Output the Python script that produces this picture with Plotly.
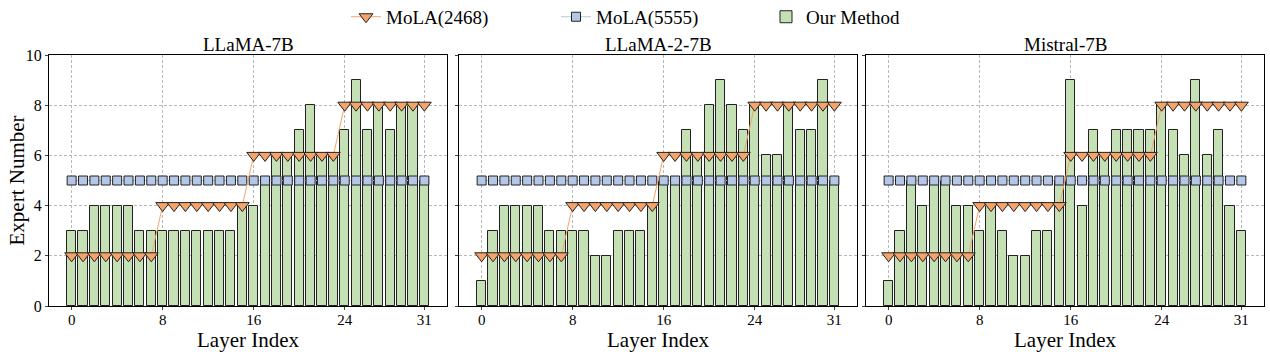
import plotly.graph_objects as go

layers = list(range(32))
titles = ["LLaMA-7B", "LLaMA-2-7B", "Mistral-7B"]

mola_2468 = [2]*8 + [4]*8 + [6]*8 + [8]*8
mola_5555 = [5]*32

ours_llama = [3, 3, 4, 4, 4, 4, 3, 3, 3, 3, 3, 3, 3, 3, 3, 4,
              4, 5, 6, 6, 7, 8, 6, 6, 7, 9, 7, 8, 7, 8, 8, 5]
ours_llama2 = [1, 3, 4, 4, 4, 4, 3, 3, 3, 3, 2, 2, 3, 3, 3, 4,
               5, 5, 7, 6, 8, 9, 8, 7, 8, 6, 6, 8, 7, 7, 9, 5]
ours_mistral = [1, 3, 5, 4, 5, 5, 4, 4, 3, 4, 3, 2, 2, 3, 3, 5,
                9, 4, 7, 6, 7, 7, 7, 7, 8, 7, 6, 9, 6, 7, 4, 3]
ours_all = [ours_llama, ours_llama2, ours_mistral]

x_ticks = [0, 8, 16, 24, 31]
y_ticks = [0, 2, 4, 6, 8, 10]

W, H = 1270, 352
panels_px = [(49, 447), (459, 857), (866, 1264)]
top_px, bot_px = 55, 306

BAR_FILL = "#c5e0b4"
EDGE = "#222222"
ORANGE = "#f4a46a"
BLUE = "#b4c7e7"
FONT = "Liberation Serif, Times New Roman, serif"

fig = go.Figure()
for i, vals in enumerate(ours_all):
    xa = "x" if i == 0 else f"x{i+1}"
    ya = "y" if i == 0 else f"y{i+1}"
    fig.add_trace(go.Bar(
        x=layers, y=vals, width=0.8, name="Our Method",
        marker=dict(color=BAR_FILL, line=dict(color=EDGE, width=1)),
        xaxis=xa, yaxis=ya, showlegend=(i == 0), legendrank=3))
    fig.add_trace(go.Scatter(
        x=layers, y=mola_5555, mode="lines+markers", name="MoLA(5555)",
        line=dict(color=BLUE, width=1),
        marker=dict(symbol="square", size=9, color=BLUE, line=dict(color=EDGE, width=1)),
        xaxis=xa, yaxis=ya, showlegend=(i == 0), legendrank=2))
    fig.add_trace(go.Scatter(
        x=layers, y=mola_2468, mode="lines+markers", name="MoLA(2468)",
        line=dict(color=ORANGE, width=1),
        marker=dict(symbol="triangle-down", size=12, color=ORANGE, line=dict(color=EDGE, width=1)),
        xaxis=xa, yaxis=ya, showlegend=(i == 0), legendrank=1))

ydom = [1 - bot_px / H, 1 - top_px / H]
layout = dict(
    width=W, height=H,
    margin=dict(l=0, r=0, t=0, b=0, autoexpand=False),
    plot_bgcolor="white", paper_bgcolor="white",
    font=dict(family=FONT, size=16, color="black"),
    bargap=0,
    legend=dict(orientation="h", x=346 / W, xanchor="left", y=1.006, yanchor="top",
                font=dict(family=FONT, size=19), entrywidth=165, entrywidthmode="pixels",
                traceorder="normal", bgcolor="rgba(0,0,0,0)"),
)
annotations = []
for i, (l, r) in enumerate(panels_px):
    sfx = "" if i == 0 else str(i + 1)
    layout[f"xaxis{sfx}"] = dict(
        domain=[l / W, r / W], range=[-1.99, 32.99], automargin=False,
        tickmode="array", tickvals=x_ticks, ticks="outside", ticklen=3,
        ticklabelstandoff=-3,
        tickfont=dict(family=FONT, size=15), showline=True, linecolor="black", linewidth=1.2, mirror=True,
        showgrid=True, gridcolor="#b8b8b8", griddash="3px,2px", gridwidth=1,
        zeroline=False, anchor="y" + sfx)
    layout[f"yaxis{sfx}"] = dict(
        domain=ydom, range=[0, 10], automargin=False,
        tickmode="array", tickvals=y_ticks, ticks="outside", ticklen=3,
        tickfont=dict(family=FONT, size=16), showticklabels=(i == 0),
        showline=True, linecolor="black", linewidth=1.2, mirror=True,
        showgrid=True, gridcolor="#b8b8b8", griddash="3px,2px", gridwidth=1,
        zeroline=False, anchor="x" + sfx)
    annotations.append(dict(text=titles[i], x=(l + r) / 2 / W, y=1 - 45 / H,
                            xref="paper", yref="paper", showarrow=False,
                            font=dict(family=FONT, size=19), xanchor="center", yanchor="middle"))
    annotations.append(dict(text="Layer Index", x=(l + r) / 2 / W, y=-1 / H,
                            xref="paper", yref="paper", showarrow=False, borderpad=0,
                            font=dict(family=FONT, size=21), xanchor="center", yanchor="bottom"))
annotations.append(dict(text="Expert Number", x=16 / W, y=1 - (top_px + bot_px) / 2 / H,
                        xref="paper", yref="paper", showarrow=False, textangle=-90,
                        font=dict(family=FONT, size=21), xanchor="center", yanchor="middle"))
layout["annotations"] = annotations
fig.update_layout(**layout)
fig.write_html("out.html")
